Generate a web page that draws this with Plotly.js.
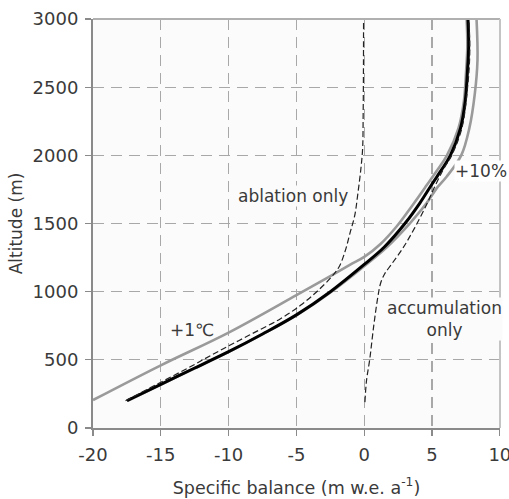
<!DOCTYPE html>
<html>
<head>
<meta charset="utf-8">
<script src="https://cdn.plot.ly/plotly-3.0.1.min.js"></script>
<style>html,body{margin:0;padding:0;background:#fff;}#chart{width:509px;height:499px;}</style>
</head>
<body>
<div id="chart"></div>
<script>
// Reference (observed) specific balance profile
const refAlt = [200, 320, 440, 560, 690, 830, 1000, 1200, 1330, 1500, 1650, 1790, 1850, 2000, 2200, 2400, 2600, 2800, 3000];
const refBal = [-17.5, -15, -12.5, -10, -7.5, -5, -2.5, 0, 1.5, 3.0, 4.1, 5.0, 5.4, 6.35, 7.1, 7.45, 7.6, 7.7, 7.65];

// +1 degree C scenario
const t1Alt = [205, 460, 700, 975, 1115, 1200, 1255, 1350, 1480, 1640, 1780, 1880, 2000, 2200, 2400, 2600, 2800, 3000];
const t1Bal = [-20, -15, -10, -5, -2.5, -1, 0, 1.2, 2.4, 3.6, 4.6, 5.3, 6.1, 6.95, 7.35, 7.5, 7.6, 7.55];

// +10% precipitation scenario
const p10Alt = [200, 320, 440, 560, 690, 830, 1000, 1200, 1330, 1500, 1650, 1760, 1843, 2000, 2200, 2450, 2700, 3000];
const p10Bal = [-17.45, -14.95, -12.45, -9.95, -7.45, -4.95, -2.42, 0.15, 1.7, 3.35, 4.6, 5.35, 6.07, 7.15, 7.75, 8.15, 8.35, 8.28];

// ablation only
const ablAlt = [200, 320, 440, 560, 680, 800, 900, 1000, 1110, 1183, 1300, 1430, 1560, 1720, 1900, 2050, 2300, 2600, 3000];
const ablBal = [-17.6, -15.3, -13.0, -10.8, -8.5, -6.2, -4.7, -3.5, -2.4, -1.85, -1.4, -1.05, -0.7, -0.47, -0.25, -0.12, -0.08, -0.06, -0.05];

// accumulation only
const accAlt = [190, 350, 500, 750, 960, 1060, 1130, 1200, 1320, 1470, 1640, 1760, 1900, 2000, 2200, 2500, 2750, 3000];
const accBal = [0.05, 0.17, 0.4, 0.7, 1.0, 1.2, 1.5, 2.0, 2.85, 3.73, 4.6, 5.15, 5.85, 6.45, 7.2, 7.62, 7.78, 7.72];

const xTicks = [-20, -15, -10, -5, 0, 5, 10];
const yTicks = [0, 500, 1000, 1500, 2000, 2500, 3000];

const FONT = 'DejaVu Sans, Verdana, sans-serif';
const TXT = '#3a3a3a';
const BG = '#fbfbfb';

const gray = {color: '#9a9a9a', width: 2.6, shape: 'spline', smoothing: 1};
const dashed = {color: '#222', width: 1.2, dash: '6px,3px', shape: 'spline', smoothing: 1};
const traces = [
  {x: t1Bal, y: t1Alt, mode: 'lines', line: gray, name: '+1°C'},
  {x: p10Bal, y: p10Alt, mode: 'lines', line: gray, name: '+10%'},
  {x: refBal, y: refAlt, mode: 'lines', line: {color: '#000', width: 3, shape: 'spline', smoothing: 1}, name: 'reference'},
  {x: ablBal, y: ablAlt, mode: 'lines', line: dashed, name: 'ablation only'},
  {x: accBal, y: accAlt, mode: 'lines', line: dashed, name: 'accumulation only'}
];

const axisCommon = {
  showgrid: true, gridcolor: '#a8a8a8', gridwidth: 1.2, griddash: '11px,7px',
  zeroline: false, showline: true, linecolor: '#8a8a8a', linewidth: 2,
  ticks: 'outside', ticklen: 6, tickwidth: 1.2, tickcolor: '#8a8a8a',
  tickfont: {family: FONT, size: 18, color: TXT}
};

const layout = {
  width: 509, height: 499,
  margin: {l: 93, r: 9, t: 19, b: 71},
  paper_bgcolor: '#ffffff', plot_bgcolor: BG,
  showlegend: false,
  font: {family: FONT, color: TXT},
  xaxis: Object.assign({}, axisCommon, {
    range: [-20, 10.01], tickvals: xTicks, ticktext: xTicks.map(String),
    ticklabelstandoff: 3, ticklabeloverflow: 'allow',
    title: {text: 'Specific balance (m w.e. a<sup>-1</sup>)', font: {family: FONT, size: 17.5, color: TXT}, standoff: 18}
  }),
  yaxis: Object.assign({}, axisCommon, {
    range: [0, 3000.5], tickvals: yTicks, ticktext: yTicks.map(String),
    ticklabelstandoff: 3,
    title: {text: 'Altitude (m)', font: {family: FONT, size: 17, color: TXT}, standoff: 6}
  }),
  shapes: [
    {type: 'line', xref: 'paper', yref: 'paper', x0: 0, x1: 1, y0: 1, y1: 1, line: {color: '#b0b0b0', width: 2}},
    {type: 'line', xref: 'paper', yref: 'paper', x0: 1, x1: 1, y0: 0, y1: 1, line: {color: '#c4c4c4', width: 2}}
  ],
  annotations: [
    {x: -5.26, y: 1702, text: 'ablation only', showarrow: false, bgcolor: BG, borderpad: 0, font: {family: FONT, size: 17, color: TXT}},
    {x: 5.91, y: 800, text: 'accumulation<br>only', showarrow: false, bgcolor: BG, borderpad: 0, font: {family: FONT, size: 17, color: TXT}, align: 'center'},
    {x: -12.7, y: 719, text: '+1℃', showarrow: false, font: {family: FONT, size: 17, color: TXT}},
    {x: 6.6, y: 1885, text: '+10%', xanchor: 'left', showarrow: false, bgcolor: '#ffffff', borderpad: 0, font: {family: FONT, size: 17, color: TXT}}
  ]
};

Plotly.newPlot('chart', traces, layout, {staticPlot: true, displayModeBar: false});
</script>
</body>
</html>
